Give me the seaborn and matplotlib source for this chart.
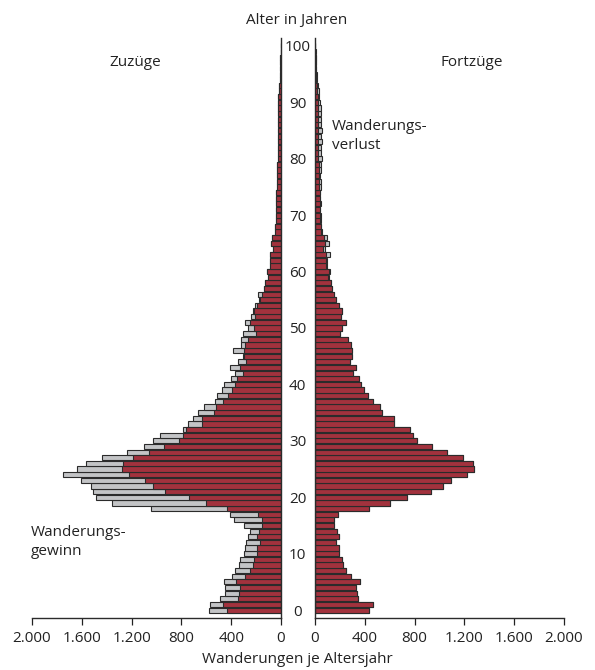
import numpy as np
import pandas as pd
import matplotlib
matplotlib.use("Agg")
import matplotlib.pyplot as plt
import seaborn as sns

# Alter 0..100
ages = np.arange(101)

# Zuzüge je Altersjahr
zuzuege = [
    578, 567, 490, 450, 450, 458, 394, 367, 335, 327,
    294, 286, 278, 268, 246, 294, 375, 410, 1047, 1355,
    1486, 1512, 1528, 1606, 1753, 1636, 1563, 1440, 1240, 1098,
    1031, 972, 784, 744, 704, 664, 616, 530, 517, 471,
    455, 404, 369, 412, 348, 308, 383, 321, 324, 308,
    262, 286, 244, 222, 211, 174, 187, 134, 130, 108,
    112, 92, 86, 88, 62, 82, 72, 50, 46, 40,
    43, 40, 42, 38, 37, 36, 34, 33, 31, 30,
    28, 27, 26, 25, 27, 24, 22, 24, 27, 26,
    25, 22, 18, 15, 12, 10, 8, 6, 5, 4, 3,
]

# Fortzüge je Altersjahr
fortzuege = [
    430, 467, 348, 338, 331, 362, 287, 250, 225, 218,
    194, 189, 165, 189, 176, 153, 153, 184, 432, 604,
    739, 933, 1025, 1091, 1221, 1280, 1273, 1186, 1057, 942,
    816, 784, 766, 633, 633, 542, 522, 465, 428, 392,
    372, 355, 305, 326, 283, 301, 297, 286, 265, 202,
    218, 246, 206, 219, 191, 168, 152, 136, 128, 112,
    118, 96, 100, 120, 82, 115, 96, 55, 52, 48,
    45, 44, 48, 44, 42, 48, 45, 44, 50, 46,
    53, 48, 52, 56, 50, 56, 52, 50, 48, 45,
    42, 36, 30, 24, 20, 15, 12, 9, 7, 5, 3,
]

xticks = [0, 400, 800, 1200, 1600, 2000]
yticks = list(range(0, 101, 10))

RED = "#B51F2E"
GREY = "#C3C4C6"
EDGE = "#2b2b2b"
TEXT = "#222222"
FS = 11

df = pd.DataFrame({"age": ages, "zuzuege": zuzuege, "fortzuege": fortzuege})
df["gemeinsam"] = df[["zuzuege", "fortzuege"]].min(axis=1)

plt.rcParams["font.family"] = ["Open Sans", "DejaVu Sans"]
plt.rcParams["font.size"] = FS

fig = plt.figure(figsize=(5.95, 6.70), dpi=100)
bottom, height = 0.0776, 0.8657
ax_l = fig.add_axes([0.0538, bottom, 0.4185, height])
ax_r = fig.add_axes([0.5294, bottom, 0.4185, height])

bar_kw = dict(orient="y", native_scale=True, errorbar=None, width=0.92,
              edgecolor=EDGE, linewidth=0.8)

# links: Zuzüge (grau = Wanderungsgewinn)
sns.barplot(data=df, x="zuzuege", y="age", color=GREY, ax=ax_l, **bar_kw)
sns.barplot(data=df, x="gemeinsam", y="age", color=RED, ax=ax_l, **bar_kw)
# rechts: Fortzüge (grau = Wanderungsverlust)
sns.barplot(data=df, x="fortzuege", y="age", color=GREY, ax=ax_r, **bar_kw)
sns.barplot(data=df, x="gemeinsam", y="age", color=RED, ax=ax_r, **bar_kw)

for ax in (ax_l, ax_r):
    ax.set_ylim(-1.4, 101.4)
    ax.set_xticks(xticks)
    ax.set_xticklabels([f"{v:,}".replace(",", ".") for v in xticks])
    ax.set_xlabel("")
    ax.set_ylabel("")
    ax.spines["top"].set_visible(False)
    ax.tick_params(axis="x", direction="out", length=5, width=0.9,
                   colors=TEXT, labelsize=FS, pad=4)
    for s in ax.spines.values():
        s.set_color(EDGE)
        s.set_linewidth(1.0)

ax_l.set_xlim(2000, 0)
ax_l.spines["left"].set_visible(False)
ax_l.set_yticks([])

ax_r.set_xlim(0, 2000)
ax_r.spines["right"].set_visible(False)
ax_r.set_yticks(yticks)
ax_r.set_yticklabels([str(v) for v in yticks])
ax_r.tick_params(axis="y", length=0, pad=12.5, labelsize=FS, colors=TEXT)
for lab in ax_r.get_yticklabels():
    lab.set_horizontalalignment("center")

fig.text(0.499, 0.970, "Alter in Jahren", ha="center", va="center",
         fontsize=FS, color=TEXT)
fig.text(0.5, 0.015, "Wanderungen je Altersjahr", ha="center", va="center",
         fontsize=FS, color=TEXT)
fig.text(0.227, 0.907, "Zuzüge", ha="center", va="center", fontsize=FS,
         color=TEXT)
fig.text(0.793, 0.907, "Fortzüge", ha="center", va="center", fontsize=FS,
         color=TEXT)
fig.text(0.558, 0.797, "Wanderungs-\nverlust", ha="left", va="center",
         fontsize=FS, color=TEXT, linespacing=1.35)
fig.text(0.052, 0.191, "Wanderungs-\ngewinn", ha="left", va="center",
         fontsize=FS, color=TEXT, linespacing=1.35)

fig.savefig("out.png", dpi=100)
